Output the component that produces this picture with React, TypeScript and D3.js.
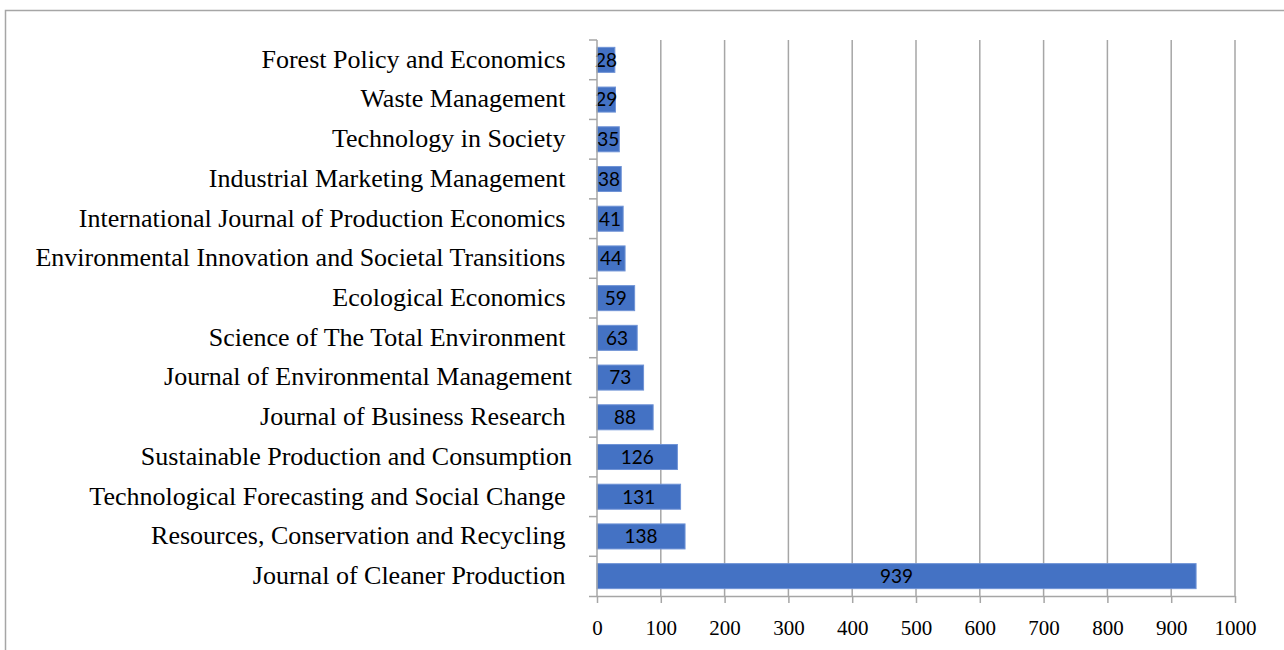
import React, { useEffect, useRef } from 'react';
import * as d3 from 'd3';

// journals, top to bottom as drawn
const journals = [
  'Forest Policy and Economics ',
  'Waste Management ',
  'Technology in Society ',
  'Industrial Marketing Management ',
  'International Journal of Production Economics ',
  'Environmental Innovation and Societal Transitions ',
  'Ecological Economics ',
  'Science of The Total Environment ',
  'Journal of Environmental Management',
  'Journal of Business Research ',
  'Sustainable Production and Consumption',
  'Technological Forecasting and Social Change ',
  'Resources, Conservation and Recycling ',
  'Journal of Cleaner Production ',
];
const counts = [28, 29, 35, 38, 41, 44, 59, 63, 73, 88, 126, 131, 138, 939];
const xTicks = [0, 100, 200, 300, 400, 500, 600, 700, 800, 900, 1000];

function App() {
  const ref = useRef<SVGSVGElement>(null);

  useEffect(() => {
    const svg = d3.select(ref.current);
    svg.selectAll('*').remove();

    const margin = { top: 40, left: 597, right: 49, bottom: 54 };
    const W = 1284, H = 650;
    const width = W - margin.left - margin.right;
    const height = H - margin.top - margin.bottom;

    // outer frame
    svg.append('rect')
      .attr('x', 5.5).attr('y', 10.5)
      .attr('width', 1400).attr('height', 800)
      .attr('fill', 'none').attr('stroke', '#a6a6a6').attr('stroke-width', 1.5);

    const x = d3.scaleLinear().domain([0, 1000]).range([0, width]);
    const y = d3.scaleBand().domain(journals).range([0, height]).paddingInner(0.37).paddingOuter(0.185);

    const g = svg.append('g').attr('transform', `translate(${margin.left},${margin.top})`);

    // grid
    g.selectAll('line.grid')
      .data(xTicks.slice(1))
      .enter().append('line')
      .attr('class', 'grid')
      .attr('x1', d => x(d)).attr('x2', d => x(d))
      .attr('y1', 0).attr('y2', height)
      .attr('stroke', '#a6a6a6').attr('stroke-width', 1.5);

    // bars
    g.selectAll('rect.bar')
      .data(journals)
      .enter().append('rect')
      .attr('class', 'bar')
      .attr('x', 0)
      .attr('y', d => y(d)!)
      .attr('width', (d, i) => x(counts[i]))
      .attr('height', y.bandwidth())
      .attr('fill', '#4472c4')
      .attr('stroke', '#6f93d6').attr('stroke-width', 1);

    g.selectAll('text.val')
      .data(journals)
      .enter().append('text')
      .attr('class', 'val')
      .attr('x', (d, i) => x(counts[i]) / 2)
      .attr('y', d => y(d)! + y.bandwidth() / 2)
      .attr('dy', '0.36em')
      .attr('text-anchor', 'middle')
      .attr('font-family', 'Lato, "Open Sans", sans-serif')
      .attr('font-size', 19)
      .attr('fill', '#000')
      .text((d, i) => counts[i]);

    // bottom axis
    const xAxis = g.append('g')
      .attr('transform', `translate(0,${height})`)
      .call(d3.axisBottom(x).tickValues(xTicks).tickFormat(d3.format('d')).tickSize(7).tickPadding(17).tickSizeOuter(0));
    xAxis.select('.domain').attr('stroke', '#a6a6a6').attr('stroke-width', 1.5)
      .attr('d', `M-8,0.5H${width}`);
    xAxis.selectAll('.tick line').attr('stroke', '#a6a6a6').attr('stroke-width', 1.5);
    xAxis.selectAll('.tick text')
      .attr('font-family', '"Liberation Serif", serif')
      .attr('font-size', 21)
      .attr('fill', '#000');

    // left axis
    const yAxis = g.append('g');
    yAxis.append('line')
      .attr('x1', 0).attr('x2', 0).attr('y1', 0).attr('y2', height)
      .attr('stroke', '#a6a6a6').attr('stroke-width', 1.5);
    const step = height / journals.length;
    yAxis.selectAll('line.tk')
      .data(d3.range(journals.length))
      .enter().append('line')
      .attr('class', 'tk')
      .attr('x1', -8).attr('x2', 0)
      .attr('y1', i => i * step).attr('y2', i => i * step)
      .attr('stroke', '#a6a6a6').attr('stroke-width', 1.5);

    yAxis.selectAll('text.lbl')
      .data(journals)
      .enter().append('text')
      .attr('class', 'lbl')
      .attr('x', -25)
      .attr('y', d => y(d)! + y.bandwidth() / 2)
      .attr('dy', '0.3em')
      .attr('text-anchor', 'end')
      .attr('font-family', '"Liberation Serif", serif')
      .attr('font-size', 26)
      .attr('fill', '#000')
      .style('white-space', 'pre')
      .text(d => d);
  }, []);

  return (
    <svg ref={ref} width={1284} height={650}
      style={{ position: 'absolute', left: 0, top: 0, background: '#fff' }} />
  );
}

export default App;
